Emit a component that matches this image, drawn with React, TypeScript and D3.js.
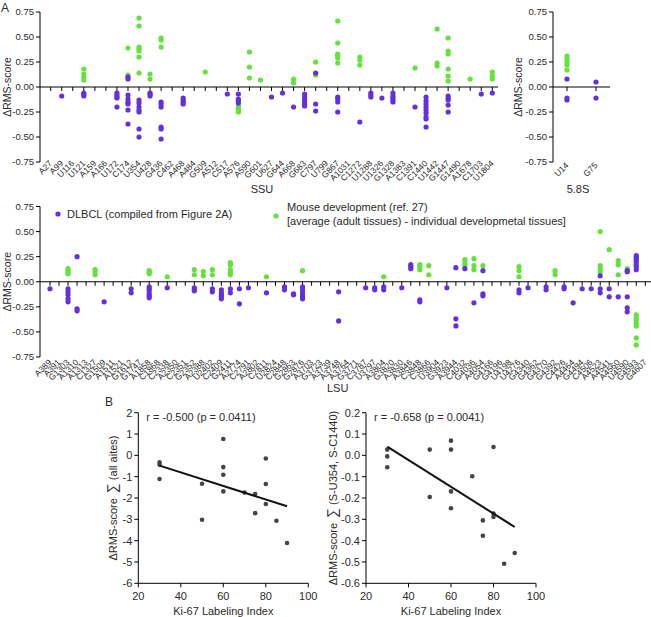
import React from 'react';
import * as d3 from 'd3';

// ---------- Panel A data ----------
const ssuLabels = ["A27","A99","U116","U121","A159","A166","U172","C174","U354","U428","G436","C462","A468","A484","G509","A512","C517","A576","A590","G601","U627","G644","A668","G683","C797","U799","G867","A1031","C1272","U1288","U1326","G1328","A1383","C1391","C1440","U1442","G1447","G1490","A1678","C1703","U1804"];

const ssuDLBCL: [string, number[]][] = [
  ["A99", [-0.09]],
  ["U121", [-0.06, -0.07, -0.09]],
  ["U172", [-0.06, -0.08, -0.10, -0.11, -0.20]],
  ["C174", [0.10, 0.08, -0.08, -0.12, -0.15, -0.17, -0.23, -0.37]],
  ["U354", [-0.13, -0.16, -0.20, -0.23, -0.25, -0.42, -0.50]],
  ["U428", [-0.06, -0.07, -0.09]],
  ["G436", [-0.15, -0.17, -0.20, -0.40, -0.42, -0.52]],
  ["A468", [-0.11, -0.13, -0.15, -0.17]],
  ["C517", [-0.07]],
  ["A576", [-0.07, -0.12, -0.14, -0.16]],
  ["U627", [-0.10]],
  ["G644", [-0.06]],
  ["A668", [-0.20]],
  ["G683", [-0.07, -0.10, -0.13, -0.15, -0.17, -0.19]],
  ["C797", [0.14, -0.17, -0.24]],
  ["G867", [-0.10, -0.12, -0.15, -0.25]],
  ["C1272", [-0.35]],
  ["U1288", [-0.06, -0.08, -0.10]],
  ["U1326", [-0.11]],
  ["G1328", [-0.06, -0.09, -0.11, -0.13, -0.15]],
  ["C1391", [-0.20]],
  ["C1440", [-0.10, -0.14, -0.17, -0.20, -0.23, -0.26, -0.30, -0.32, -0.40]],
  ["G1447", [-0.09, -0.11, -0.13, -0.18, -0.25]],
  ["C1703", [-0.07]],
  ["U1804", [-0.06]],
];

const ssuMouse: [string, number[]][] = [
  ["U121", [0.18, 0.13, 0.10, 0.07]],
  ["C174", [0.39, 0.12]],
  ["U354", [0.69, 0.61, 0.40, 0.38, 0.36, 0.30, 0.14]],
  ["U428", [0.13, 0.08]],
  ["G436", [0.49, 0.47, 0.40]],
  ["G509", [0.15]],
  ["A576", [-0.19, -0.21, -0.23, -0.25]],
  ["A590", [0.35, 0.20, 0.09]],
  ["G601", [0.07]],
  ["A668", [0.08, 0.04]],
  ["C797", [0.25, 0.12]],
  ["G867", [0.66, 0.44, 0.33, 0.31, 0.29, 0.24]],
  ["C1272", [0.30, 0.27, 0.22]],
  ["C1391", [0.19]],
  ["U1442", [0.58, 0.24, 0.21]],
  ["G1447", [0.49, 0.36, 0.33, 0.18, 0.11, 0.06]],
  ["A1678", [0.08]],
  ["U1804", [0.15, 0.11, 0.08]],
];

const s58Labels = ["U14", "G75"];
const s58DLBCL: [string, number[]][] = [
  ["U14", [0.08, -0.11, -0.13]],
  ["G75", [0.05, -0.11]],
];
const s58Mouse: [string, number[]][] = [
  ["U14", [0.31, 0.28, 0.25, 0.22, 0.17]],
];

const lsuLabels = ["A389","A391","G1303","A1310","A1313","C1327","G1509","A1511","A1521","G1612","G1747","A1858","C1868","C2338","A2350","C2351","G2352","A2388","U2402","C2409","G2411","A2774","C2791","A2802","C2811","U2824","C2848","G2863","G2876","A3703","G3723","A3739","A3748","A3764","G3771","C3787","U3797","A3804","G3820","A3830","A3846","C3848","C3866","U3904","G3923","A3944","C4032","G4036","A4054","G4166","G4196","U4198","U4276","G4340","G4362","G4370","G4392","C4426","A4464","G4494","C4506","A4523","A4541","A4560","U4590","G4593","G4607"];

const lsuDLBCL: [string, number[]][] = [
  ["A389", [-0.07]],
  ["G1303", [-0.07, -0.10, -0.13, -0.17, -0.20]],
  ["A1310", [0.25, -0.27, -0.29]],
  ["G1509", [-0.20]],
  ["G1612", [-0.07, -0.11]],
  ["A1858", [-0.05, -0.07, -0.09, -0.12, -0.14, -0.16]],
  ["C2338", [-0.06]],
  ["G2352", [-0.06, -0.08, -0.09]],
  ["U2402", [-0.07, -0.10]],
  ["C2409", [-0.08, -0.11, -0.13, -0.15, -0.17]],
  ["G2411", [-0.07, -0.11]],
  ["A2774", [-0.07, -0.22]],
  ["C2791", [-0.06]],
  ["C2811", [-0.11]],
  ["C2848", [-0.05, -0.08]],
  ["G2863", [-0.12, -0.13]],
  ["G2876", [-0.05, -0.07, -0.10, -0.13, -0.15, -0.17]],
  ["A3748", [-0.10, -0.39]],
  ["C3787", [-0.06]],
  ["U3797", [-0.06, -0.08]],
  ["A3804", [-0.05, -0.08]],
  ["A3830", [-0.06]],
  ["A3846", [0.17, 0.15, 0.13]],
  ["C3848", [-0.18, -0.20]],
  ["G3923", [-0.06]],
  ["A3944", [0.14, -0.37, -0.44]],
  ["C4032", [0.13]],
  ["G4036", [-0.21]],
  ["A4054", [0.11, -0.12, -0.14]],
  ["U4276", [-0.08, -0.11]],
  ["G4340", [-0.06]],
  ["G4370", [-0.05, -0.08]],
  ["C4426", [-0.05, -0.07]],
  ["A4464", [-0.21]],
  ["G4494", [-0.07]],
  ["C4506", [-0.07]],
  ["A4523", [0.06, -0.07, -0.11]],
  ["A4541", [-0.07, -0.15]],
  ["A4560", [-0.15]],
  ["U4590", [0.11, 0.10, -0.15, -0.26, -0.30]],
  ["G4593", [0.26, 0.24, 0.22, 0.20, 0.17, 0.15, 0.12]],
];

const lsuMouse: [string, number[]][] = [
  ["G1303", [0.13, 0.11, 0.09, 0.08]],
  ["C1327", [0.12, 0.10, 0.07]],
  ["A1858", [0.11, 0.09, 0.08]],
  ["C2338", [0.05]],
  ["G2352", [0.12, 0.07]],
  ["A2388", [0.10, 0.06]],
  ["U2402", [0.12, 0.07]],
  ["G2411", [0.19, 0.17, 0.12, 0.09, 0.07]],
  ["C2811", [0.05]],
  ["G2876", [0.11]],
  ["A3804", [0.05]],
  ["C3848", [0.17, 0.15, 0.12]],
  ["C3866", [0.16, 0.07]],
  ["C4032", [0.22, 0.19, 0.16]],
  ["G4036", [0.23, 0.16, 0.12]],
  ["A4054", [0.16]],
  ["U4276", [0.15, 0.11, 0.05]],
  ["G4392", [0.11, 0.07]],
  ["A4523", [0.50, 0.16, 0.13, 0.10]],
  ["A4541", [0.32]],
  ["A4560", [0.21, 0.17, 0.07]],
  ["U4590", [0.13]],
  ["G4593", [-0.33, -0.36, -0.38, -0.41, -0.44, -0.56, -0.63]],
];

const aTicks = [0.75, 0.5, 0.25, 0, -0.25, -0.5, -0.75];

// ---------- Panel B data ----------
const ki67 = [30, 30, 30, 50, 50, 60, 60, 60, 60, 70, 75, 75, 80, 80, 80, 85, 90];
const sumAllSites = [-0.33, -0.44, -1.11, -1.33, -3.02, 0.77, -0.55, -0.91, -1.69, -1.74, -1.81, -2.71, -0.15, -1.34, -2.28, -3.07, -4.11];
const sumU354C1440 = [0.027, -0.005, -0.056, 0.027, -0.195, 0.069, 0.027, -0.169, -0.248, -0.098, -0.305, -0.377, 0.039, -0.273, -0.289, -0.508, -0.458];
const kiTicks = [20, 40, 60, 80, 100];
const leftYTicks = [2, 1, 0, -1, -2, -3, -4, -5, -6];
const rightYTicks = [0.2, 0.1, 0.0, -0.1, -0.2, -0.3, -0.4, -0.5, -0.6];

const PURPLE = '#6430dc';
const GREEN = '#62e23b';
const TXT = '#2a2a2a';
const FONT = '"Liberation Sans", Arial, Helvetica, sans-serif';

const fix = (s: string) => s.replace('\u2212', '-');
const f2 = (v: number) => fix(d3.format('.2f')(v));
const f1 = (v: number) => fix(d3.format('.1f')(v));
const f0 = (v: number) => fix(d3.format('d')(v));

function YAxis({ x, y, ticks, fmt, fs }: any) {
  return (
    <g>
      <line x1={x} x2={x} y1={y(ticks[0])} y2={y(ticks[ticks.length - 1])} stroke="#000" strokeWidth={1} />
      {ticks.map((t: number) => (
        <g key={t}>
          <line x1={x - 4} x2={x} y1={y(t)} y2={y(t)} stroke="#000" />
          <text x={x - 6} y={y(t)} dy="0.35em" textAnchor="end" fontSize={fs} fill={TXT}>{fmt(t)}</text>
        </g>
      ))}
    </g>
  );
}

function Strip({ labels, dlbcl, mouse, x, y, x0, x1, labelY, fs }: any) {
  const z = y(0);
  return (
    <g>
      <line x1={x0} x2={x1} y1={z} y2={z} stroke="#000" />
      {labels.map((l: string) => (
        <line key={'t' + l} x1={x(l)} x2={x(l)} y1={z} y2={z + 4} stroke="#000" />
      ))}
      {mouse.map(([l, vals]: [string, number[]]) =>
        vals.map((v, i) => <circle key={'m' + l + i} cx={x(l)} cy={y(v)} r={2.6} fill={GREEN} />)
      )}
      {dlbcl.map(([l, vals]: [string, number[]]) =>
        vals.map((v, i) => <circle key={'d' + l + i} cx={x(l)} cy={y(v)} r={2.6} fill={PURPLE} />)
      )}
      {labels.map((l: string) => (
        <text key={'l' + l} transform={`translate(${x(l) + 2},${labelY}) rotate(-45)`} textAnchor="end" fontSize={fs} fill={TXT}>{l}</text>
      ))}
    </g>
  );
}

function regression(xs: number[], ys: number[]) {
  const mx = d3.mean(xs)!, my = d3.mean(ys)!;
  const sxy = d3.sum(xs, (v, i) => (v - mx) * (ys[i] - my));
  const sxx = d3.sum(xs, (v) => (v - mx) * (v - mx));
  const b = sxy / sxx;
  return (v: number) => my + b * (v - mx);
}

function Scatter({ ax, xs, ys, yTicks, fmt, yLabel1, yLabel2, note, labelX }: any) {
  const x = d3.scaleLinear().domain([20, 100]).range([ax, ax + 170]);
  const y = d3.scaleLinear().domain([yTicks[yTicks.length - 1], yTicks[0]]).range([583.3, 412.7]);
  const fit = regression(xs, ys);
  const xmin = d3.min(xs)!, xmax = d3.max(xs)!;
  const yb = y.range()[0];
  return (
    <g>
      <YAxis x={ax} y={y} ticks={yTicks} fmt={fmt} fs={11} />
      <line x1={ax} x2={x(100)} y1={yb} y2={yb} stroke="#000" />
      {kiTicks.map((t) => (
        <g key={t}>
          <line x1={x(t)} x2={x(t)} y1={yb} y2={yb + 4} stroke="#000" />
          <text x={x(t)} y={yb + 17} textAnchor="middle" fontSize={11} fill={TXT}>{t}</text>
        </g>
      ))}
      <text x={x(60)} y={615} textAnchor="middle" fontSize={11} fill={TXT}>Ki-67 Labeling Index</text>
      <text transform={`translate(${labelX},${(412.7 + 583.3) / 2}) rotate(-90)`} textAnchor="middle" fontSize={11} fill={TXT}>
        {yLabel1}<tspan fontSize={14} dx={5}>∑</tspan><tspan dx={3}>{yLabel2}</tspan>
      </text>
      <text x={ax + 8} y={421} fontSize={11} fill={TXT}>{note}</text>
      {xs.map((v: number, i: number) => (
        <circle key={i} cx={x(v)} cy={y(ys[i])} r={2.3} fill="#444" />
      ))}
      <line x1={x(xmin)} x2={x(xmax)} y1={y(fit(xmin))} y2={y(fit(xmax))} stroke="#111" strokeWidth={2} />
    </g>
  );
}

export default function App() {
  const yS = d3.scaleLinear().domain([-0.75, 0.75]).range([162, 12]);
  const xS = d3.scalePoint<string>().domain(ssuLabels).range([50.7, 492.3]);
  const x58 = d3.scalePoint<string>().domain(s58Labels).range([567, 596]);
  const yL = d3.scaleLinear().domain([-0.75, 0.75]).range([357, 206.5]);
  const xL = d3.scalePoint<string>().domain(lsuLabels).range([50, 645.3]);

  return (
    <svg width={651} height={617} style={{ position: 'absolute', left: 0, top: 0, fontFamily: FONT, background: '#fff' }}>
      <rect width={651} height={617} fill="#fff" />
      <text x={1} y={12} fontSize={12} fill={TXT}>A</text>

      {/* SSU */}
      <YAxis x={40} y={yS} ticks={aTicks} fmt={f2} fs={9.5} />
      <text transform={`translate(11,${yS(0)}) rotate(-90)`} textAnchor="middle" fontSize={10.5} fill={TXT}>ΔRMS-score</text>
      <Strip labels={ssuLabels} dlbcl={ssuDLBCL} mouse={ssuMouse} x={xS} y={yS} x0={40} x1={498} labelY={164} fs={8.5} />
      <text x={262} y={193} textAnchor="middle" fontSize={11} fill={TXT}>SSU</text>

      {/* 5.8S */}
      <YAxis x={553} y={yS} ticks={aTicks} fmt={f2} fs={9.5} />
      <text transform={`translate(522,${yS(0)}) rotate(-90)`} textAnchor="middle" fontSize={10.5} fill={TXT}>ΔRMS-score</text>
      <Strip labels={s58Labels} dlbcl={s58DLBCL} mouse={s58Mouse} x={x58} y={yS} x0={553} x1={610} labelY={166} fs={8.5} />
      <text x={578} y={193} textAnchor="middle" fontSize={11} fill={TXT}>5.8S</text>

      {/* LSU */}
      <YAxis x={40} y={yL} ticks={aTicks} fmt={f2} fs={9.5} />
      <text transform={`translate(11,${yL(0)}) rotate(-90)`} textAnchor="middle" fontSize={10.5} fill={TXT}>ΔRMS-score</text>
      <Strip labels={lsuLabels} dlbcl={lsuDLBCL} mouse={lsuMouse} x={xL} y={yL} x0={40} x1={651} labelY={363} fs={8.5} />
      <text x={327} y={392} fontSize={11} fill={TXT}>LSU</text>

      {/* legend */}
      <circle cx={58} cy={214} r={2.6} fill={PURPLE} />
      <text x={67} y={218} fontSize={11} fill={TXT}>DLBCL (compiled from Figure 2A)</text>
      <circle cx={276} cy={216} r={2.6} fill={GREEN} />
      <text x={287} y={211} fontSize={11} fill={TXT}>Mouse development (ref. 27)</text>
      <text x={287} y={225} fontSize={11} fill={TXT}>[average (adult tissues) - individual developmetal tissues]</text>

      {/* Panel B */}
      <text x={105} y={406} fontSize={12} fill={TXT}>B</text>
      <Scatter ax={138.3} xs={ki67} ys={sumAllSites} yTicks={leftYTicks} fmt={f0}
        yLabel1="ΔRMS-score" yLabel2="(all aites)" note="r = -0.500 (p = 0.0411)" labelX={117} />
      <Scatter ax={366} xs={ki67} ys={sumU354C1440} yTicks={rightYTicks} fmt={f1}
        yLabel1="ΔRMS-score" yLabel2="(S-U354, S-C1440)" note="r = -0.658 (p = 0.0041)" labelX={337} />
    </svg>
  );
}
